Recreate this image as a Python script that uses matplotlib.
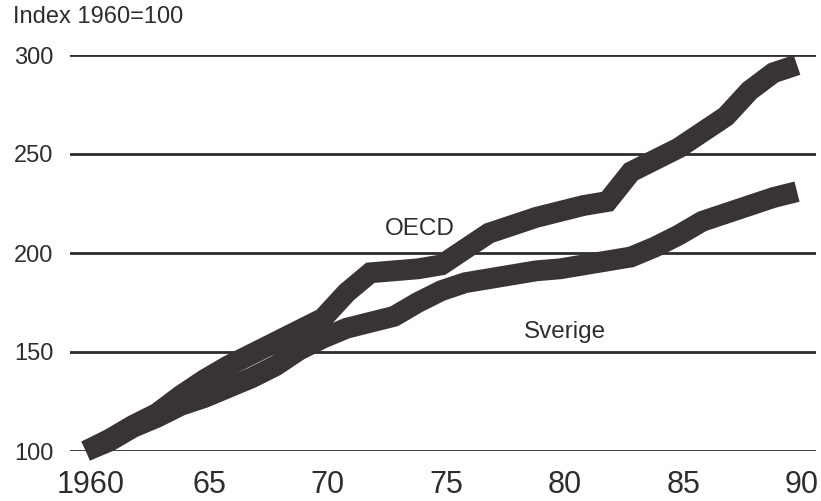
import matplotlib.pyplot as plt
import matplotlib.transforms as mtransforms

# Data (index 1960 = 100)
years = list(range(1960, 1991))
oecd = [100, 106, 113, 119, 128, 136, 143, 149, 155, 161,
        167, 180, 190, 191, 192, 194, 202, 210, 214, 218,
        221, 224, 226, 241, 247, 253, 261, 269, 282, 291, 295]
sverige = [100, 105, 112, 117, 123, 127, 132, 137, 143, 151,
           157, 162, 165, 168, 175, 181, 185, 187, 189, 191,
           192, 194, 196, 198, 203, 209, 216, 220, 224, 228, 231]

y_ticks = [100, 150, 200, 250, 300]
x_ticks = [1960, 1965, 1970, 1975, 1980, 1985, 1990]
x_labels = ['1960', '65', '70', '75', '80', '85', '90']

ink = '#2f2c2c'
line_col = '#3a3333'

plt.rcParams['font.family'] = ['Liberation Sans', 'DejaVu Sans']

fig = plt.figure(figsize=(8.21, 5.01), dpi=100)
ax = fig.add_axes([70 / 821, 50 / 501, 746 / 821, 396 / 501])

for s in [oecd, sverige]:
    ax.plot(years, s, color=line_col, lw=15, solid_capstyle='butt',
            solid_joinstyle='miter', clip_on=False, zorder=3)

ax.set_xlim(1959.33, 1990.8)
ax.set_ylim(100, 300)
ax.set_yticks(y_ticks)
ax.set_xticks(x_ticks)
ax.set_xticklabels(x_labels)
ax.yaxis.grid(True, color=ink, lw=2)
ax.set_axisbelow(True)
for sp in ax.spines.values():
    sp.set_visible(False)
ax.tick_params(axis='y', length=0, pad=12, labelsize=17, labelcolor=ink)
ax.tick_params(axis='x', length=0, pad=14, labelsize=22, labelcolor=ink)

# reference labels sit a little right of the year positions
shift = mtransforms.ScaledTranslation(5 / 100, 0, fig.dpi_scale_trans)
for lab in ax.get_xticklabels():
    lab.set_transform(lab.get_transform() + shift)

ax.text(1974.1, 212, 'OECD', fontsize=17.5, color=ink, ha='center', va='center')
ax.text(1980.2, 160, 'Sverige', fontsize=17.5, color=ink, ha='center', va='center')
fig.text(13 / 821, 1 - 17 / 501, 'Index 1960=100', fontsize=17, color=ink,
         ha='left', va='center')

plt.savefig('out.png', dpi=100)
